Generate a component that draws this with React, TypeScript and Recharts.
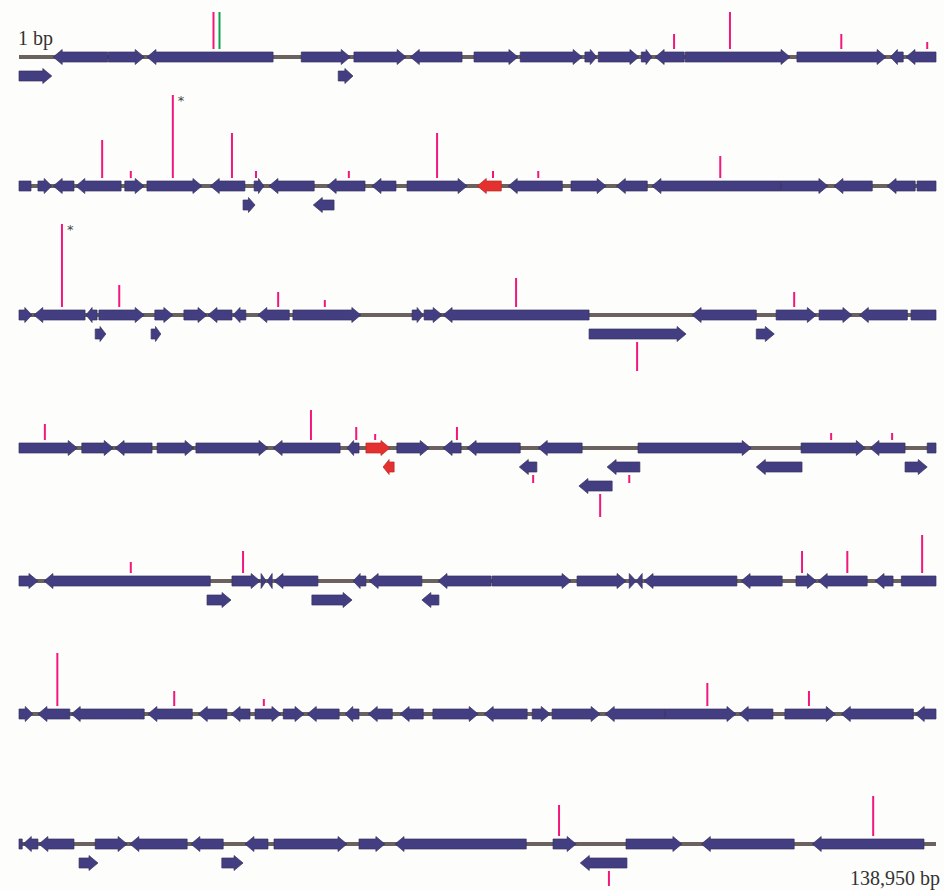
import React from 'react';
import { ComposedChart, XAxis, YAxis, ReferenceArea, ReferenceLine } from 'recharts';

// gene: [start kb, end kb, strand (1 / -1 / 0 = cut at row edge), lane (0 main, 1-2 below), highlighted]
type Gene = [number, number, number, number?, number?];
// ssr marker: [position kb, length, lane, flag]
type Ssr = [number, number, number, string?];

const ROW_KB = 19.85;

const row1Genes: Gene[] = [
  [0.74, 1.92, -1], [1.93, 2.71, 1], [2.77, 5.5, -1], [6.11, 7.17, 1], [7.25, 8.38, 1],
  [8.47, 9.59, -1], [9.85, 10.8, 1], [10.85, 12.19, 1], [12.25, 12.51, 1], [12.54, 13.42, 1],
  [13.47, 13.7, 1], [13.77, 14.4, -1], [14.42, 16.69, 1], [16.84, 18.77, 1], [18.86, 19.14, -1],
  [19.2, 19.85, -1],
  [0, 0.71, 1, 1], [6.91, 7.23, 1, 1],
];
const row1Ssr: Ssr[] = [
  [4.21, 37, 0], [4.34, 37, 0, 'green'], [14.18, 15, 0], [15.39, 37, 0], [17.8, 15, 0], [19.66, 7, 0],
];

const row2Genes: Gene[] = [
  [0, 0.26, 0], [0.41, 0.71, 1], [0.74, 1.19, -1], [1.23, 2.21, -1], [2.29, 2.71, 1],
  [2.77, 3.96, 1], [4.14, 4.89, -1], [5.09, 5.3, 1], [5.41, 6.39, -1], [6.67, 7.49, -1],
  [7.64, 8.16, -1], [8.4, 9.7, 1], [9.92, 10.44, -1, 0, 1], [10.59, 11.76, -1], [11.95, 12.71, 1],
  [12.93, 13.6, -1], [13.7, 16.5, -1], [16.5, 17.51, 1], [17.64, 18.47, -1], [18.79, 19.4, -1],
  [19.44, 19.85, 0],
  [4.85, 5.11, 1, 1], [6.37, 6.82, -1, 1],
];
const row2Ssr: Ssr[] = [
  [1.8, 38, 0], [2.42, 7, 0], [3.33, 83, 0, 'star'], [4.61, 45, 0], [5.13, 7, 0],
  [7.14, 7, 0], [9.05, 45, 0], [10.26, 7, 0], [11.24, 7, 0], [15.18, 22, 0],
];

const row3Genes: Gene[] = [
  [0, 0.28, 1], [0.32, 1.43, -1], [1.45, 1.69, -1], [1.73, 2.71, 1], [2.94, 3.33, 1],
  [3.57, 4.07, 1], [4.09, 4.61, -1], [4.63, 4.91, -1], [5.17, 5.85, -1], [5.93, 7.4, 1],
  [8.51, 8.75, 1], [8.77, 9.16, 1], [9.18, 12.34, -1], [14.57, 15.96, -1], [16.39, 17.26, 1],
  [17.32, 18.03, 1], [18.19, 19.23, -1], [19.31, 19.85, 0],
  [1.65, 1.88, 1, 1], [2.86, 3.07, 1, 1], [12.34, 14.44, 1, 1], [15.96, 16.35, 1, 1],
];
const row3Ssr: Ssr[] = [
  [0.93, 83, 0, 'star'], [2.17, 22, 0], [5.61, 15, 0], [6.62, 7, 0], [10.76, 29, 0],
  [16.78, 15, 0], [13.38, 29, 1],
];

const row4Genes: Gene[] = [
  [0, 1.26, 1], [1.36, 2.04, 1], [2.08, 2.88, -1], [2.99, 3.79, 1], [3.83, 5.39, 1],
  [5.5, 6.95, -1], [7.1, 7.36, -1], [7.51, 8.03, 1, 0, 1], [8.18, 8.88, 1], [9.18, 9.57, -1],
  [9.7, 10.85, -1], [11.24, 12.19, -1], [13.4, 15.85, 1], [16.93, 18.32, 1], [18.42, 19.18, -1],
  [19.66, 19.85, 0],
  [7.88, 8.12, -1, 1, 1], [10.83, 11.21, -1, 1], [12.73, 13.44, -1, 1], [15.96, 16.95, -1, 1],
  [19.18, 19.66, 1, 1], [12.12, 12.84, -1, 2],
];
const row4Ssr: Ssr[] = [
  [0.56, 16, 0], [6.32, 30, 0], [7.3, 13, 0], [7.71, 6, 0], [9.48, 13, 0], [17.58, 7, 0],
  [18.9, 7, 0], [11.13, 8, 1], [13.21, 8, 1], [12.58, 23, 2],
];

const row5Genes: Gene[] = [
  [0, 0.41, 1], [0.54, 4.14, -1], [4.61, 5.22, 1], [5.24, 5.35, 1], [5.37, 5.48, -1],
  [5.52, 6.47, -1], [7.23, 7.51, -1], [7.58, 8.72, -1], [9.07, 10.22, -1], [10.24, 11.95, 1],
  [12.08, 13.14, 1], [13.21, 13.36, 1], [13.36, 13.49, -1], [13.53, 15.54, -1], [15.63, 16.52, -1],
  [16.82, 17.26, 1], [17.3, 18.36, -1], [18.53, 18.92, -1], [19.1, 19.85, 0],
  [4.07, 4.59, 1, 1], [6.34, 7.21, 1, 1], [8.72, 9.09, -1, 1],
];
const row5Ssr: Ssr[] = [
  [2.42, 11, 0], [4.85, 22, 0], [16.95, 22, 0], [17.93, 22, 0], [19.55, 38, 0],
];

const row6Genes: Gene[] = [
  [0, 0.3, 1], [0.41, 1.1, -1], [1.13, 2.71, -1], [2.79, 3.75, -1], [3.88, 4.5, -1],
  [4.59, 5.0, -1], [5.11, 5.67, 1], [5.72, 6.17, 1], [6.24, 6.93, -1], [7.06, 7.36, -1],
  [7.56, 8.08, -1], [8.25, 8.75, -1], [8.96, 9.94, 1], [10.07, 11.0, -1], [11.11, 11.5, 1],
  [11.54, 12.58, 1], [12.69, 13.99, -1], [13.99, 15.52, 1], [15.59, 16.32, -1], [16.58, 17.67, 1],
  [17.8, 19.36, -1], [19.4, 19.85, -1],
];
const row6Ssr: Ssr[] = [
  [0.83, 53, 0], [3.36, 15, 0], [5.3, 7, 0], [14.9, 23, 0], [17.1, 15, 0],
];

const row7Genes: Gene[] = [
  [0, 0.07, 0], [0.09, 0.41, -1], [0.43, 1.19, -1], [1.65, 2.34, 1], [2.4, 3.64, -1],
  [3.72, 4.42, -1], [4.89, 5.39, -1], [5.52, 7.1, 1], [7.36, 7.92, 1], [8.14, 10.98, -1],
  [11.56, 12.06, 1], [13.14, 14.35, 1], [14.77, 16.78, -1], [17.17, 19.59, -1],
  [1.3, 1.71, 1, 1], [4.39, 4.85, 1, 1], [12.15, 13.16, -1, 1],
];
const row7Ssr: Ssr[] = [[11.69, 31, 0], [18.49, 40, 0], [12.77, 15, 1]];

const rows = [
  { genes: row1Genes, ssr: row1Ssr },
  { genes: row2Genes, ssr: row2Ssr },
  { genes: row3Genes, ssr: row3Ssr },
  { genes: row4Genes, ssr: row4Ssr },
  { genes: row5Genes, ssr: row5Ssr },
  { genes: row6Genes, ssr: row6Ssr },
  { genes: row7Genes, ssr: row7Ssr },
];

// layout
const W = 944;
const H = 890;
const ROW_Y = [57, 186, 315, 448, 581, 714, 844];
const LANE_GAP = 19;

const NAVY = '#433e82';
const RED = '#e4312f';
const PINK = '#f2177c';
const GREEN = '#12a148';
const LINE = '#6b625f';

function geneShape(strand: number, red: boolean) {
  return (p: any) => {
    const { x, y, width: w, height: h } = p;
    const cy = y + h / 2;
    const head = w < 7 ? w : Math.min(9, w * 0.55);
    let pts: number[][];
    if (strand > 0) {
      const b = x + w - head;
      pts = [[x, y], [b, y], [b, cy - 7.5], [x + w, cy], [b, cy + 7.5], [b, y + h], [x, y + h]];
    } else if (strand < 0) {
      const b = x + head;
      pts = [[x + w, y], [b, y], [b, cy - 7.5], [x, cy], [b, cy + 7.5], [b, y + h], [x + w, y + h]];
    } else {
      pts = [[x, y], [x + w, y], [x + w, y + h], [x, y + h]];
    }
    return (
      <polygon
        points={pts.map((q) => q.join(',')).join(' ')}
        fill={red ? RED : NAVY}
        stroke={red ? '#b52a2a' : '#36325f'}
        strokeWidth={0.7}
      />
    );
  };
}

function ssrShape(flag?: string) {
  return (p: any) => {
    const top = Math.min(p.y1, p.y2);
    return (
      <g>
        <line x1={p.x1} y1={p.y1} x2={p.x2} y2={p.y2} stroke={flag === 'green' ? GREEN : PINK} strokeWidth={2} />
        {flag === 'star' && (
          <text x={p.x1 + 5} y={top + 10} fontSize={13} fill="#444" fontFamily="DejaVu Sans">
            *
          </text>
        )}
      </g>
    );
  };
}

export default function App() {
  return (
    <div style={{ position: 'relative', width: W, height: H, background: '#fdfdfc' }}>
      <style>{'body{margin:0}'}</style>
      <ComposedChart width={W} height={H} data={[]} margin={{ top: 0, right: 8, bottom: 0, left: 19 }}>
        <XAxis type="number" dataKey="x" domain={[0, ROW_KB]} allowDataOverflow hide />
        <YAxis type="number" domain={[0, H]} reversed allowDataOverflow hide />
        {rows.map((r, i) => (
          <ReferenceArea
            key={'bb' + i}
            x1={0}
            x2={ROW_KB}
            y1={ROW_Y[i] - 2}
            y2={ROW_Y[i] + 2}
            fill={LINE}
            fillOpacity={1}
            stroke="none"
            ifOverflow="visible"
          />
        ))}
        {rows.map((r, i) =>
          r.genes.map((g, j) => {
            const ly = ROW_Y[i] + (g[3] || 0) * LANE_GAP;
            return (
              <ReferenceArea
                key={'g' + i + '-' + j}
                x1={g[0]}
                x2={g[1]}
                y1={ly - 5}
                y2={ly + 5}
                ifOverflow="visible"
                shape={geneShape(g[2], !!g[4])}
              />
            );
          })
        )}
        {rows.map((r, i) =>
          r.ssr.map((s, j) => {
            const lane = s[2];
            const base = lane === 0 ? ROW_Y[i] - 8 : ROW_Y[i] + lane * LANE_GAP + 8;
            const end = lane === 0 ? base - s[1] : base + s[1];
            return (
              <ReferenceLine
                key={'s' + i + '-' + j}
                segment={[{ x: s[0], y: base }, { x: s[0], y: end }]}
                ifOverflow="visible"
                shape={ssrShape(s[3])}
              />
            );
          })
        )}
      </ComposedChart>
      <div style={{ position: 'absolute', left: 18, top: 27, fontFamily: 'Liberation Serif', fontSize: 20, color: '#333' }}>
        1 bp
      </div>
      <div style={{ position: 'absolute', right: 4, top: 867, fontFamily: 'Liberation Serif', fontSize: 20, color: '#333' }}>
        138,950 bp
      </div>
    </div>
  );
}
